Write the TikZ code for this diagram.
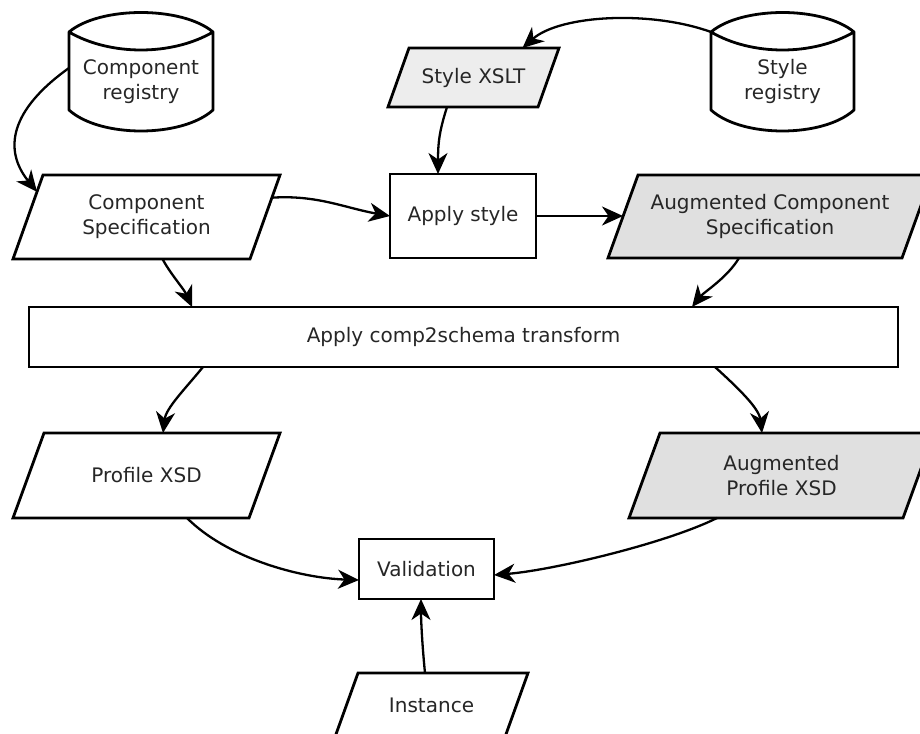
\documentclass[tikz,border=0pt]{standalone}
\usepackage{fontspec}
\setmainfont{DejaVu Sans}
\usetikzlibrary{arrows.meta,calc,backgrounds}
\newcommand\drawpara[3]{%
  \begin{scope}[on background layer]
  \draw[paraline,fill=#2] ([xshift=#3]#1.north west) -- ([xshift=#3]#1.north east)
    -- ([xshift=-#3]#1.south east) -- ([xshift=-#3]#1.south west) -- cycle;
  \end{scope}}
\begin{document}
\begin{tikzpicture}[x=1pt,y=-1pt,
  font=\fontsize{20}{25}\selectfont,
  box/.style={draw, line width=2.8pt, rectangle, inner sep=0pt, outer sep=0pt, text=black!85, align=center},
  paratext/.style={rectangle, inner sep=0pt, outer sep=0pt, text=black!85, align=center},
  paraline/.style={line width=2.8pt, line join=miter},
  cyltext/.style={rectangle, inner sep=0pt, outer sep=0pt, text=black!85, align=center},
  cyl/.style={line width=2.8pt, line join=round},
  conn/.style={line width=2.3pt, -{Stealth[length=21pt,width=19pt,inset=6.5pt]}},
]
\useasboundingbox (0,0) rectangle (920,733);
\clip (0,0) rectangle (920,733);

% cylinders
\node[cyltext, minimum width=144pt, minimum height=99pt] (creg) at (141,81.5) {Component\\registry};
\node[cyltext, minimum width=143pt, minimum height=99pt] (sreg) at (782.5,81.5) {Style\\registry};
\draw[cyl] (69,32) -- (69,110) .. controls (100,138) and (182,138) .. (213,110) -- (213,32)
  .. controls (182,6) and (100,6) .. (69,32) .. controls (110,56) and (172,56) .. (213,32);
\draw[cyl] (711,32) -- (711,110) .. controls (742,138) and (823,138) .. (854,110) -- (854,32)
  .. controls (823,6) and (742,6) .. (711,32) .. controls (752,56) and (813,56) .. (854,32);

% parallelograms (body = total width minus slant)
\node[paratext, minimum width=237pt, minimum height=84pt] (cspec) at (146.5,217) {Component\\Specification};
\drawpara{cspec}{white}{15pt}
\node[paratext, minimum width=150pt, minimum height=59pt] (sxslt) at (473.5,77.5) {Style XSLT};
\drawpara{sxslt}{black!7}{10.5pt}
\node[paratext, minimum width=294pt, minimum height=83pt] (acspec) at (770,216.5) {Augmented Component\\Specification};
\drawpara{acspec}{black!12}{15pt}
\node[paratext, minimum width=236pt, minimum height=85pt] (pxsd) at (146.5,475.5) {Profile XSD};
\drawpara{pxsd}{white}{15.5pt}
\node[paratext, minimum width=274pt, minimum height=85pt] (apxsd) at (781.5,475.5) {Augmented\\Profile XSD};
\drawpara{apxsd}{black!12}{15.5pt}
\node[paratext, minimum width=170pt, minimum height=64pt] (inst) at (431.5,705) {Instance};
\drawpara{inst}{white}{11.5pt}

% rectangles
\node[box, minimum width=146pt, minimum height=84pt] (astyle) at (463,216) {Apply style};
\node[box, minimum width=869pt, minimum height=60pt] (c2s) at (463.5,337) {Apply comp2schema transform};
\node[box, minimum width=135pt, minimum height=60pt] (valid) at (426.5,569) {Validation};

% connectors
\draw[conn] ([yshift=13.5pt]creg.west) .. controls +(-59,42) and +(-34,-42) ..
  ($([xshift=15pt]cspec.north west)!0.2!([xshift=-15pt]cspec.south west)$);
\draw[conn] (sreg.north west) .. controls +(-61,-22) and +(37.5,-33) .. ([xshift=124pt]sxslt.north west);
\draw[conn] ([xshift=48.5pt]sxslt.south west) .. controls +(-8,25) and +(0,-30) .. ([xshift=-25pt]astyle.north);
\draw[conn] ($([xshift=15pt]cspec.north east)!0.27!([xshift=-15pt]cspec.south east)$) .. controls +(45,-3) and +(-45,-8) .. (astyle.west);
\draw[conn] (astyle.east) -- (astyle.east -| acspec.west);
\draw[conn] ([xshift=134.5pt]cspec.south west) .. controls +(8,15) and +(-8,-18) .. ([xshift=163pt]c2s.north west);
\draw[conn] ([xshift=116pt]acspec.south west) .. controls +(-12,20) and +(12,-15) .. ([xshift=663pt]c2s.north west);
\draw[conn] ([xshift=174pt]c2s.south west) .. controls +(-18,22) and +(3,-25) .. ([xshift=134.5pt]pxsd.north west);
\draw[conn] ([xshift=686pt]c2s.south west) .. controls +(22,20) and +(-3,-25) .. ([xshift=117.5pt]apxsd.north west);
\draw[conn] ([xshift=158.5pt]pxsd.south west) .. controls +(40,40) and +(-60,-2) .. ([yshift=-11pt]valid.west);
\draw[conn] ([xshift=72.5pt]apxsd.south west) .. controls +(-50,25) and +(60,-5) .. ([yshift=-6pt]valid.east);
\draw[conn] ([xshift=78.5pt]inst.north west) .. controls +(-3,-30) and +(0,20) .. ([xshift=-5.5pt]valid.south);
\end{tikzpicture}
\end{document}
